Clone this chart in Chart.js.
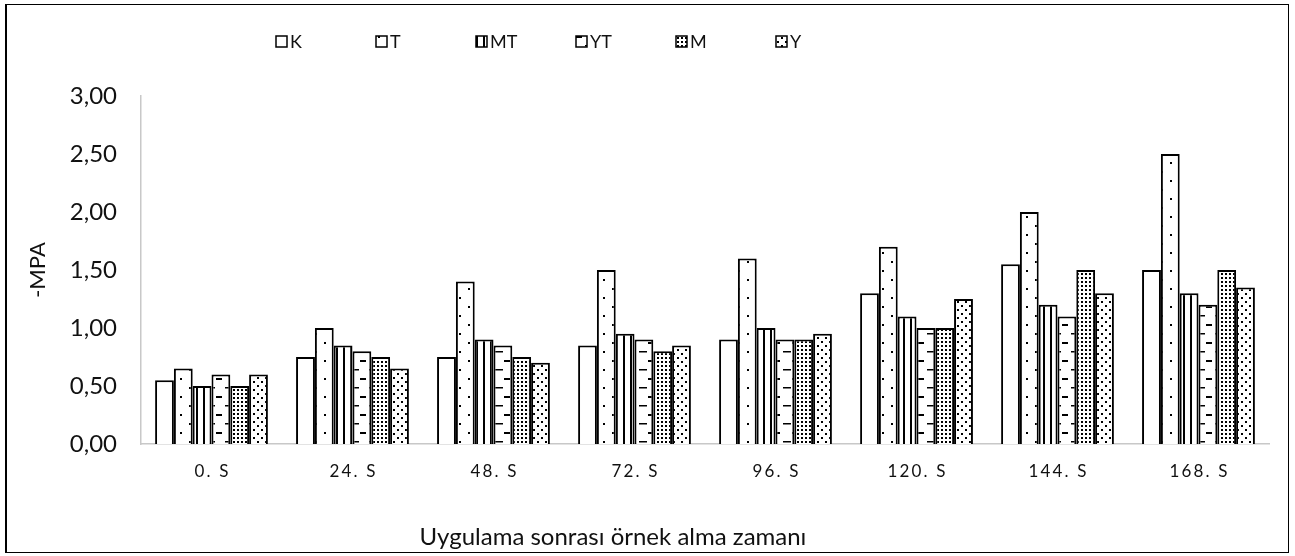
<!DOCTYPE html>
<html lang="tr">
<head>
<meta charset="utf-8">
<title>-MPA</title>
<script src="https://cdn.jsdelivr.net/npm/chart.js@4"></script>
<style>
  html, body { margin: 0; padding: 0; background: #fff; }
  #wrap { position: relative; width: 1295px; height: 556px; overflow: hidden; }
  #frame {
    position: absolute; left: 5px; top: 4px; width: 1281px; height: 547px;
    border: 1px solid #000; border-left-width: 2px; pointer-events: none;
  }
  canvas { position: absolute; left: 0; top: 0; }
</style>
</head>
<body>
<div id="wrap">
  <canvas id="chart" width="1295" height="556"></canvas>
  <div id="frame"></div>
</div>
<script>
// Sampling times after treatment
const categories = ['0. S', '24. S', '48. S', '72. S', '96. S', '120. S', '144. S', '168. S'];

// -MPa values per treatment
const seriesK  = [0.55, 0.75, 0.75, 0.85, 0.90, 1.30, 1.55, 1.50];
const seriesT  = [0.65, 1.00, 1.40, 1.50, 1.60, 1.70, 2.00, 2.50];
const seriesMT = [0.50, 0.85, 0.90, 0.95, 1.00, 1.10, 1.20, 1.30];
const seriesYT = [0.60, 0.80, 0.85, 0.90, 0.90, 1.00, 1.10, 1.20];
const seriesM  = [0.50, 0.75, 0.75, 0.80, 0.90, 1.00, 1.50, 1.50];
const seriesY  = [0.60, 0.65, 0.70, 0.85, 0.95, 1.25, 1.30, 1.35];

const seriesNames = ['K', 'T', 'MT', 'YT', 'M', 'Y'];
const yTicks = [0, 0.5, 1, 1.5, 2, 2.5, 3];

const FONT = 'Lato, "Open Sans", "Liberation Sans", sans-serif';
const INK = '#111';

// Black-and-white hatch fills, one per treatment
function tile(w, h, paint) {
  const c = document.createElement('canvas');
  c.width = w; c.height = h;
  const g = c.getContext('2d');
  g.fillStyle = '#fff';
  g.fillRect(0, 0, w, h);
  g.fillStyle = '#000';
  paint(g);
  return document.createElement('canvas').getContext('2d').createPattern(c, 'repeat');
}

const fills = {
  K: '#ffffff',
  T: tile(18, 18, g => { g.fillRect(0, 0, 2, 2); g.fillRect(9, 9, 2, 2); }),
  MT: tile(7, 4, g => { g.fillRect(0, 0, 2, 4); }),
  YT: tile(18, 18, g => { g.fillRect(0, 0, 6, 2); g.fillRect(9, 9, 8, 1.5); }),
  M: tile(4, 4, g => { g.fillRect(1, 1, 2, 2); }),
  Y: tile(8, 8, g => { g.fillRect(1, 1, 2, 2); g.fillRect(5, 5, 2, 2); })
};

const seriesValues = [seriesK, seriesT, seriesMT, seriesYT, seriesM, seriesY];

const datasets = seriesNames.map((name, i) => ({
  label: name,
  data: seriesValues[i],
  backgroundColor: fills[name],
  borderColor: '#000',
  borderWidth: 2,
  borderSkipped: 'bottom',
  categoryPercentage: 0.8,
  barPercentage: 1.0
}));

// Legend row and axis caption drawn onto the chart canvas
const decorations = {
  id: 'decorations',
  afterDraw(chart) {
    const ctx = chart.ctx;
    ctx.save();
    ctx.font = '18px ' + FONT;
    ctx.textBaseline = 'middle';
    ctx.textAlign = 'left';
    chart.data.datasets.forEach((ds, i) => {
      const x = 276 + i * 100;
      const y = 42;
      ctx.fillStyle = ds.backgroundColor;
      ctx.fillRect(x, y - 6, 11, 11);
      ctx.strokeStyle = '#000';
      ctx.lineWidth = 1.5;
      ctx.strokeRect(x, y - 6, 11, 11);
      ctx.fillStyle = INK;
      ctx.fillText(ds.label, x + 14, y);
    });
    ctx.font = '24px ' + FONT;
    ctx.textAlign = 'center';
    ctx.fillText('Uygulama sonrası örnek alma zamanı', 613, 537);
    ctx.restore();
  }
};

new Chart(document.getElementById('chart'), {
  type: 'bar',
  data: { labels: categories, datasets },
  plugins: [decorations],
  options: {
    responsive: false,
    animation: false,
    devicePixelRatio: 1,
    layout: { padding: { left: 0, right: 26, top: 96, bottom: 0 } },
    plugins: {
      legend: { display: false },
      tooltip: { enabled: false }
    },
    scales: {
      x: {
        grid: { display: false, drawTicks: false },
        border: { display: true, color: '#c8c8c8', width: 1.5 },
        ticks: {
          color: INK,
          font: { family: FONT, size: 17 },
          padding: 17,
          maxRotation: 0,
          callback(value) {
            return this.getLabelForValue(value).split('').join('\u2009');
          }
        },
        afterFit(scale) { scale.height = 112; }
      },
      y: {
        min: 0,
        max: 3,
        afterBuildTicks(scale) { scale.ticks = yTicks.map(v => ({ value: v })); },
        grid: { display: false, drawTicks: false },
        border: { display: true, color: '#c8c8c8', width: 1.5 },
        ticks: {
          color: INK,
          font: { family: FONT, size: 24 },
          padding: 24,
          callback: v => v.toFixed(2).replace('.', ',')
        },
        title: {
          display: true,
          text: '-MPA',
          color: INK,
          font: { family: FONT, size: 22 },
          padding: { top: 25, bottom: 0 }
        },
        afterFit(scale) { scale.width = 141; }
      }
    }
  }
});
</script>
</body>
</html>
